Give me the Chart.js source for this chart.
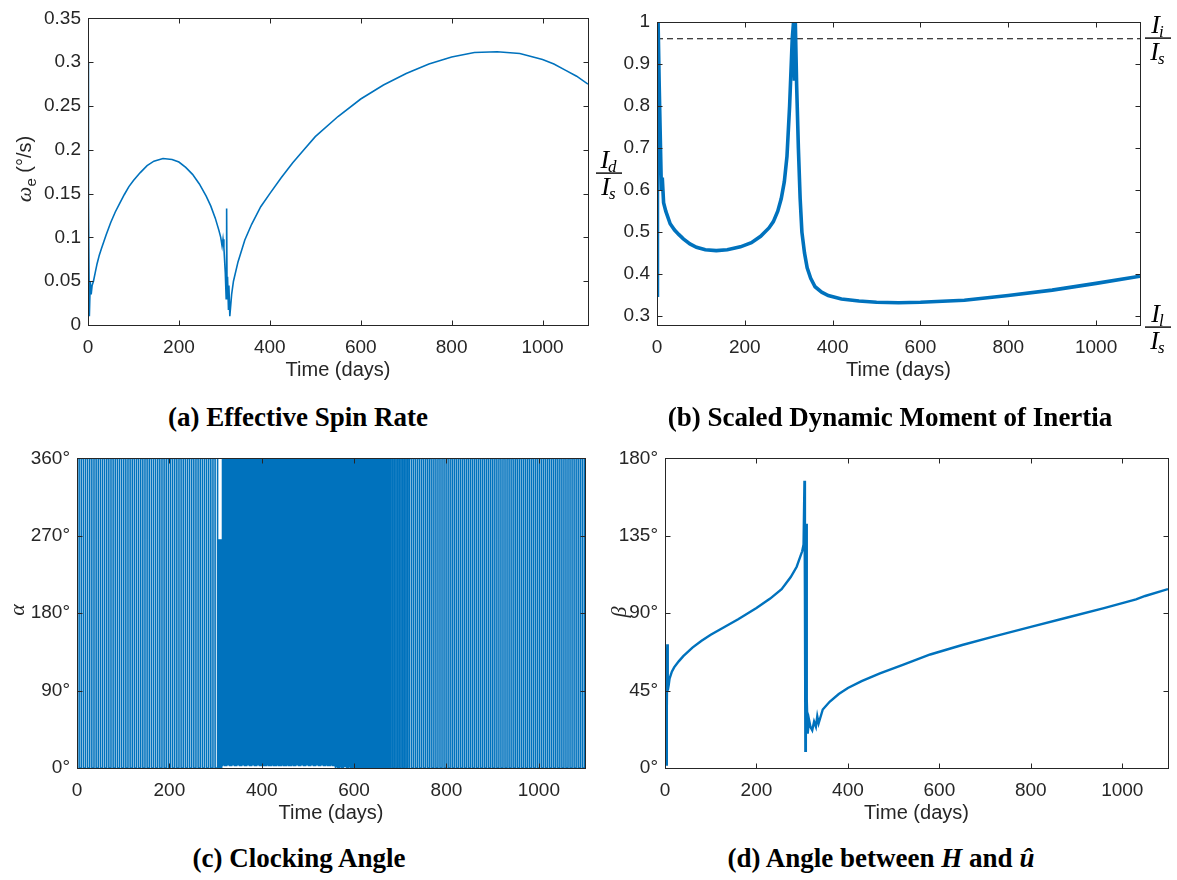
<!DOCTYPE html>
<html>
<head>
<meta charset="utf-8">
<script src="https://cdn.jsdelivr.net/npm/chart.js@4.4.1/dist/chart.umd.min.js"></script>
<style>
  body { margin: 0; background: #fff; width: 1177px; height: 880px; position: relative; overflow: hidden; }
  .panel { position: absolute; }
  .caption {
    position: absolute; transform: translateX(-50%); white-space: nowrap;
    font-family: "Liberation Serif", "Times New Roman", serif; font-weight: bold;
    font-size: 27px; line-height: 30px; color: #000;
  }
</style>
</head>
<body>
<div class="panel" style="left:0;top:0"><canvas id="spin" width="600" height="395"></canvas></div>
<div class="panel" style="left:590px;top:0"><canvas id="inertia" width="587" height="395"></canvas></div>
<div class="panel" style="left:0;top:440px"><canvas id="clock" width="600" height="400"></canvas></div>
<div class="panel" style="left:590px;top:440px"><canvas id="beta" width="587" height="400"></canvas></div>

<div class="caption" style="left:298px;top:402px">(a) Effective Spin Rate</div>
<div class="caption" style="left:890px;top:402px">(b) Scaled Dynamic Moment of Inertia</div>
<div class="caption" style="left:299px;top:843px">(c) Clocking Angle</div>
<div class="caption" style="left:881px;top:843px">(d) Angle between <i>H</i> and <i>û</i></div>

<script>
// ---- data ----
const timeTicks = [0, 200, 400, 600, 800, 1000];
const timeMax = 1100;

// (a) effective spin rate, deg/s
const spinDays = [0, 1, 3, 5, 7, 9, 12, 16, 20, 25, 30, 40, 50, 60, 70, 80, 90, 100, 115, 130, 145, 165, 185,
  200, 215, 230, 245, 260, 270, 280, 288, 292, 295, 297, 299, 302, 304, 305, 306, 307, 309, 310, 312, 316, 320,
  330, 345, 360, 380, 400, 425, 450, 475, 500, 550, 600, 650, 700, 750, 800, 850, 900, 950, 1000, 1025, 1050,
  1075, 1100];
const spinRate = [0.3, 0.15, 0.01, 0.05, 0.035, 0.045, 0.05, 0.06, 0.07, 0.08, 0.088, 0.103, 0.117, 0.129,
  0.139, 0.149, 0.158, 0.165, 0.174, 0.182, 0.187, 0.19, 0.189, 0.186, 0.18, 0.172, 0.161, 0.147, 0.136, 0.122,
  0.108, 0.1, 0.09, 0.098, 0.088, 0.06, 0.03, 0.133, 0.03, 0.055, 0.018, 0.045, 0.01, 0.035, 0.05, 0.072, 0.097,
  0.115, 0.135, 0.15, 0.168, 0.185, 0.2, 0.215, 0.238, 0.258, 0.274, 0.287, 0.298, 0.306, 0.311, 0.312, 0.31,
  0.303, 0.298, 0.291, 0.284, 0.275];
const spinTicks = [0, 0.05, 0.1, 0.15, 0.2, 0.25, 0.3, 0.35];

// (b) scaled dynamic moment of inertia Id/Is
const inertiaDays = [0, 1, 2.5, 5, 8, 10, 12, 15, 20, 30, 40, 50, 60, 75, 90, 110, 135, 160, 190, 215, 236, 255,
  265, 275, 283, 290, 296, 302, 308, 311, 313, 315, 318, 322, 326, 330, 336, 342, 350, 360, 375, 390, 420, 460,
  500, 550, 600, 700, 800, 900, 1000, 1100];
const inertiaRatio = [0.35, 0.7, 1.0, 0.85, 0.7, 0.6, 0.63, 0.57, 0.55, 0.52, 0.505, 0.494, 0.484, 0.472, 0.464,
  0.458, 0.456, 0.458, 0.465, 0.475, 0.49, 0.51, 0.525, 0.55, 0.58, 0.62, 0.68, 0.8, 0.96, 1.0, 0.86, 1.0, 0.85,
  0.7, 0.58, 0.5, 0.45, 0.415, 0.39, 0.37, 0.357, 0.349, 0.341, 0.336, 0.333, 0.332, 0.333, 0.338, 0.349, 0.362,
  0.378, 0.395];
const intermediateRatio = 0.96;   // Ii/Is dashed level
const inertiaTicks = [0.3, 0.4, 0.5, 0.6, 0.7, 0.8, 0.9, 1];

// (c) clocking angle: full 0-360 sweeps, one entry per time segment
const alphaSegStart = [0, 304, 314, 560, 600, 640, 680, 720];
const alphaSegEnd = [304, 314, 560, 600, 640, 680, 720, 1100];
const alphaSweepDays = [4.6, 1.2, 0.9, 1.4, 2.2, 2.9, 3.6, 4.4];   // days between sweeps
const alphaLow = [0, 0, 3, 1, 0, 0, 0, 0];
const alphaHigh = [360, 265, 360, 360, 360, 360, 360, 360];
const angleTicksC = [0, 90, 180, 270, 360];

// (d) angle between H and u
const betaDays = [0, 1, 2, 3, 4, 5, 6, 8, 10, 15, 20, 30, 40, 50, 60, 80, 100, 130, 160, 200, 230, 255, 275,
  288, 296, 300, 303, 305, 306, 307, 308, 309, 310, 312, 315, 318, 322, 326, 330, 333, 336, 345, 360, 380, 400,
  430, 470, 520, 580, 650, 720, 800, 880, 960, 1030, 1050, 1100];
const betaDeg = [70, 55, 5, 2, 35, 72, 45, 48, 52, 56, 58.5, 62, 65, 67.5, 70, 74, 77.5, 82, 86.5, 93, 98.5, 104,
  111, 117, 123, 126, 130, 167, 100, 10, 60, 142, 40, 20, 28, 24, 22, 27, 24, 30, 26, 34, 38.5, 43, 46.5, 50.5,
  55, 60, 66, 71.5, 76.5, 82, 87.5, 93, 98, 100, 104];
const angleTicksD = [0, 45, 90, 135, 180];

// ---- styling ----
const AXIS = '#262626';
const BLUE = '#0072BD';
const SANS = '"Liberation Sans", Arial, sans-serif';
const SERIF = '"Liberation Serif", "Times New Roman", serif';
const tickFont = { family: SANS, size: 19 };

const pairs = (xs, ys) => xs.map((x, i) => ({ x, y: ys[i] }));

// each sweep is a vertical run between the segment's low and high angle
const alphaPts = [];
alphaSegStart.forEach((s, k) => {
  let up = true;
  for (let t = s; t < alphaSegEnd[k] - 1e-6; t += alphaSweepDays[k]) {
    const a = up ? alphaLow[k] : alphaHigh[k];
    const b = up ? alphaHigh[k] : alphaLow[k];
    alphaPts.push({ x: t, y: a }, { x: t, y: b });
    up = !up;
  }
});

// MATLAB-like box with inward ticks, x title and a custom y title
function axesPlugin(drawTitles) {
  return {
    id: 'matlabAxes',
    afterDraw(chart) {
      const { ctx, chartArea: a, scales: { x, y } } = chart;
      ctx.save();
      ctx.strokeStyle = AXIS;
      ctx.lineWidth = 1;
      const L = Math.round(a.left) + 0.5, R = Math.round(a.right) + 0.5;
      const T = Math.round(a.top) + 0.5, B = Math.round(a.bottom) + 0.5;
      ctx.strokeRect(L, T, R - L, B - T);
      const tl = 5;
      ctx.beginPath();
      x.ticks.forEach(t => {
        const px = Math.round(x.getPixelForValue(t.value)) + 0.5;
        ctx.moveTo(px, B); ctx.lineTo(px, B - tl);
        ctx.moveTo(px, T); ctx.lineTo(px, T + tl);
      });
      y.ticks.forEach(t => {
        const py = Math.round(y.getPixelForValue(t.value)) + 0.5;
        ctx.moveTo(L, py); ctx.lineTo(L + tl, py);
        ctx.moveTo(R, py); ctx.lineTo(R - tl, py);
      });
      ctx.stroke();

      ctx.fillStyle = AXIS;
      ctx.font = '20px ' + SANS;
      ctx.textAlign = 'center';
      ctx.textBaseline = 'middle';
      ctx.fillText('Time (days)', (a.left + a.right) / 2, a.bottom + 45);
      drawTitles(ctx);
      ctx.restore();
    }
  };
}

function drawFraction(ctx, cx, barY, num, numSub, den, denSub) {
  ctx.save();
  ctx.fillStyle = '#000';
  ctx.textAlign = 'left';
  ctx.textBaseline = 'alphabetic';
  const big = 'italic 26px ' + SERIF, small = 'italic 17px ' + SERIF;
  const term = (main, sub, base) => {
    ctx.font = big; const w1 = ctx.measureText(main).width;
    ctx.font = small; const w2 = ctx.measureText(sub).width;
    const x0 = cx - (w1 + w2) / 2;
    ctx.font = big; ctx.fillText(main, x0, base);
    ctx.font = small; ctx.fillText(sub, x0 + w1 - 1, base + 4);
  };
  term(num, numSub, barY - 5);
  term(den, denSub, barY + 22);
  ctx.fillRect(cx - 13, barY - 0.6, 26, 1.4);
  ctx.restore();
}

function rotatedSymbol(ctx, cx, cy, text) {
  ctx.save();
  ctx.translate(cx, cy);
  ctx.rotate(-Math.PI / 2);
  ctx.fillStyle = AXIS;
  ctx.font = 'italic 22px ' + SERIF;
  ctx.textAlign = 'center';
  ctx.textBaseline = 'middle';
  ctx.fillText(text, 0, 0);
  ctx.restore();
}

function makeChart(id, box, datasets, yMin, yMax, yTicks, yFmt, drawTitles) {
  return new Chart(document.getElementById(id), {
    type: 'line',
    data: { datasets },
    options: {
      responsive: false,
      animation: false,
      events: [],
      layout: { padding: { top: box.top, right: box.right, left: 0, bottom: 0 } },
      plugins: { legend: { display: false }, tooltip: { enabled: false } },
      elements: { point: { radius: 0 }, line: { tension: 0 } },
      scales: {
        x: {
          type: 'linear', min: 0, max: timeMax,
          afterBuildTicks: s => { s.ticks = timeTicks.map(v => ({ value: v })); },
          afterFit: s => { s.height = box.xh; },
          grid: { display: false, drawTicks: false },
          border: { display: false },
          ticks: { color: AXIS, font: tickFont, padding: 11, maxRotation: 0, callback: v => String(v) }
        },
        y: {
          type: 'linear', min: yMin, max: yMax,
          afterBuildTicks: s => { s.ticks = yTicks.map(v => ({ value: v })); },
          afterFit: s => { s.width = box.yw; },
          grid: { display: false, drawTicks: false },
          border: { display: false },
          ticks: { color: AXIS, font: tickFont, padding: 7, callback: yFmt }
        }
      }
    },
    plugins: [axesPlugin(drawTitles)]
  });
}

const decimal = v => String(Math.round(v * 100) / 100);
const degree = v => v + '°';

// (a)
makeChart('spin', { top: 13, right: 12, xh: 70, yw: 88 },
  [{ data: pairs(spinDays, spinRate), borderColor: BLUE, borderWidth: 1.6 }],
  0, 0.35, spinTicks, decimal,
  ctx => {
    ctx.save();
    ctx.translate(31, 169);
    ctx.rotate(-Math.PI / 2);
    ctx.fillStyle = AXIS;
    ctx.textBaseline = 'alphabetic';
    ctx.textAlign = 'left';
    const omegaFont = 'italic 22px ' + SERIF, subFont = '15px ' + SANS, restFont = '20px ' + SANS;
    ctx.font = omegaFont; const w1 = ctx.measureText('ω').width;
    ctx.font = subFont; const w2 = ctx.measureText('e').width;
    ctx.font = restFont; const w3 = ctx.measureText(' (°/s)').width;
    const x0 = -(w1 + w2 + w3) / 2;
    ctx.font = omegaFont; ctx.fillText('ω', x0, 0);
    ctx.font = subFont; ctx.fillText('e', x0 + w1, 5);
    ctx.font = restFont; ctx.fillText(' (°/s)', x0 + w1 + w2, 0);
    ctx.restore();
  });

// (b)
makeChart('inertia', { top: 22, right: 37, xh: 70, yw: 67 },
  [
    { data: pairs(inertiaDays, inertiaRatio), borderColor: BLUE, borderWidth: 3.6 },
    { data: pairs([0, timeMax], [intermediateRatio, intermediateRatio]), borderColor: '#000', borderWidth: 1.1, borderDash: [6, 4] }
  ],
  0.279, 1, inertiaTicks, decimal,
  ctx => {
    drawFraction(ctx, 19, 173, 'I', 'd', 'I', 's');
    drawFraction(ctx, 568, 38, 'I', 'i', 'I', 's');
    drawFraction(ctx, 568, 327, 'I', 'l', 'I', 's');
  });

// (c)
makeChart('clock', { top: 12, right: 15, xh: 72, yw: 77 },
  [{ data: alphaPts, borderColor: BLUE, borderWidth: 1.6 }],
  0, 360, angleTicksC, degree,
  ctx => rotatedSymbol(ctx, 18, 170, 'α'));

// (d)
makeChart('beta', { top: 17, right: 9, xh: 72, yw: 75 },
  [{ data: pairs(betaDays, betaDeg), borderColor: BLUE, borderWidth: 2.4 }],
  0, 180, angleTicksD, degree,
  ctx => rotatedSymbol(ctx, 30, 172, 'β'));
</script>
</body>
</html>
